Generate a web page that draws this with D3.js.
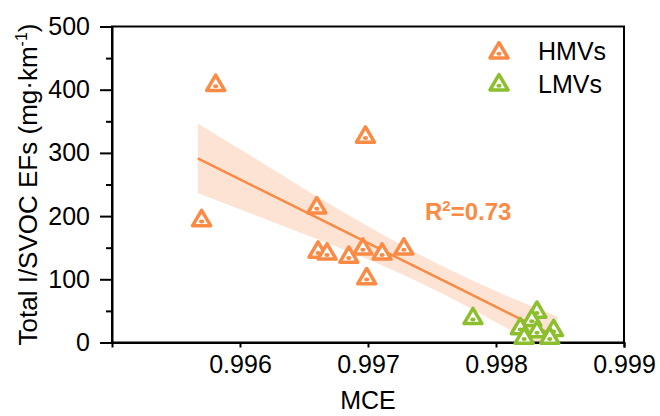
<!DOCTYPE html>
<html>
<head>
<meta charset="utf-8">
<script src="https://cdn.jsdelivr.net/npm/d3@7"></script>
<style>
  body { margin: 0; background: #fff; }
  text { font-family: "Liberation Sans", Arial, sans-serif; }
</style>
</head>
<body>
<div id="chart"></div>
<script>
// HMVs (orange)
const hmvMCE = [0.99581, 0.99698, 0.99570, 0.99660, 0.99661, 0.99668, 0.99685, 0.99696, 0.99711, 0.99728, 0.99699];
const hmvEF  = [410, 328, 196, 216, 146, 143, 138, 151, 143, 151, 104];

// LMVs (green)
const lmvMCE = [0.99782, 0.99832, 0.99828, 0.99819, 0.99832, 0.99845, 0.99822, 0.99842];
const lmvEF  = [41, 51, 38, 25, 20, 22, 10, 10];

// fitted line + confidence band
const fitMCE   = [0.99567, 0.99620, 0.99670, 0.99720, 0.99770, 0.99820, 0.99848];
const fitEF    = [291.5, 238, 187.6, 137.1, 86.7, 36.2, 8];
const bandUp   = [346.5, 281, 219, 161, 109, 64, 41];
const bandLow  = [236.5, 195, 156, 114, 65, 9, -25];

const xTicks = [0.996, 0.997, 0.998, 0.999];
const yTicks = [0, 100, 200, 300, 400, 500];
const yMinor = [50, 150, 250, 350, 450];

const orange = "#fb8a45", green = "#8cbf2e";

const W = 660, H = 416;
const m = {left: 112, right: 36, top: 26.5, bottom: 73.5};

const svg = d3.select("#chart").append("svg")
  .attr("width", W).attr("height", H);

const x = d3.scaleLinear().domain([0.995, 0.999]).range([m.left, W - m.right]);
const y = d3.scaleLinear().domain([0, 500]).range([H - m.bottom, m.top]);

svg.append("clipPath").attr("id", "clip").append("rect")
  .attr("x", m.left).attr("y", m.top)
  .attr("width", W - m.left - m.right).attr("height", H - m.top - m.bottom);

// band
const bandData = fitMCE.map((v, i) => ({x: v, hi: bandUp[i], lo: bandLow[i]}));
svg.append("path")
  .attr("clip-path", "url(#clip)")
  .attr("d", d3.area().x(d => x(d.x)).y0(d => y(d.lo)).y1(d => y(d.hi)).curve(d3.curveMonotoneX)(bandData))
  .attr("fill", "#fde3d3");

svg.append("path")
  .attr("clip-path", "url(#clip)")
  .attr("d", d3.line().x((d, i) => x(d)).y((d, i) => y(fitEF[i]))(fitMCE))
  .attr("fill", "none").attr("stroke", orange).attr("stroke-width", 2.5);

// frame
svg.append("rect")
  .attr("x", m.left).attr("y", m.top)
  .attr("width", W - m.left - m.right).attr("height", H - m.top - m.bottom)
  .attr("fill", "none").attr("stroke", "#000").attr("stroke-width", 2);

// axes
const fs = 25;
svg.append("g").attr("transform", `translate(0,${H - m.bottom})`)
  .call(d3.axisBottom(x).tickValues(xTicks).tickSize(5).tickPadding(8).tickFormat(d3.format(".3f")));
svg.append("g").attr("transform", `translate(${m.left},0)`)
  .call(d3.axisLeft(y).tickValues(yTicks).tickSize(12).tickPadding(10));
svg.append("g").attr("transform", `translate(${m.left},0)`)
  .call(d3.axisLeft(y).tickValues(yMinor).tickSize(6).tickFormat(""))
  .call(g => g.select(".domain").remove());

svg.selectAll(".domain").attr("stroke", "#000").attr("stroke-width", 2);
svg.selectAll(".tick line").attr("stroke", "#000").attr("stroke-width", 2);
svg.selectAll(".tick text").attr("fill", "#000")
  .style("font-family", '"Liberation Sans", Arial, sans-serif').style("font-size", fs + "px");

// axis titles
svg.append("text")
  .attr("x", (m.left + W - m.right) / 2).attr("y", 409)
  .attr("text-anchor", "middle").style("font-size", "25px").text("MCE");

const yt = svg.append("text")
  .attr("transform", `translate(37,${(m.top + H - m.bottom) / 2}) rotate(-90)`)
  .attr("text-anchor", "middle").style("font-size", "26px");
yt.append("tspan").text("Total I/SVOC EFs (mg·km");
yt.append("tspan").attr("dy", -10).style("font-size", "16px").text("-1");
yt.append("tspan").attr("dy", 10).text(")");

// markers
function tri(g, color) {
  g.append("path")
    .attr("d", "M0,-8.3L9,7L-9,7Z")
    .attr("fill", "#fff").attr("stroke", color).attr("stroke-width", 3.5)
    .attr("stroke-linejoin", "round");
  g.append("ellipse").attr("cx", 0).attr("cy", 2.8).attr("rx", 2.6).attr("ry", 2)
    .attr("fill", color);
}

svg.selectAll(".hmv").data(hmvMCE).enter().append("g")
  .attr("class", "hmv")
  .attr("transform", (d, i) => `translate(${x(d)},${y(hmvEF[i])})`)
  .each(function() { tri(d3.select(this), orange); });

svg.selectAll(".lmv").data(lmvMCE).enter().append("g")
  .attr("class", "lmv")
  .attr("transform", (d, i) => `translate(${x(d)},${y(lmvEF[i])})`)
  .each(function() { tri(d3.select(this), green); });

// R2 label
const r2 = svg.append("text").attr("x", 425).attr("y", 220)
  .attr("fill", orange).style("font-size", "24px").style("font-weight", "bold");
r2.append("tspan").text("R");
r2.append("tspan").attr("dy", -9).style("font-size", "15px").text("2");
r2.append("tspan").attr("dy", 9).text("=0.73");

// legend
const legend = [["HMVs", orange], ["LMVs", green]];
legend.forEach((l, i) => {
  const g = svg.append("g").attr("transform", `translate(499,${51 + i * 32})`);
  tri(g, l[1]);
  svg.append("text").attr("x", 538).attr("y", 60 + i * 32.5)
    .style("font-size", "25px").text(l[0]);
});
</script>
</body>
</html>
